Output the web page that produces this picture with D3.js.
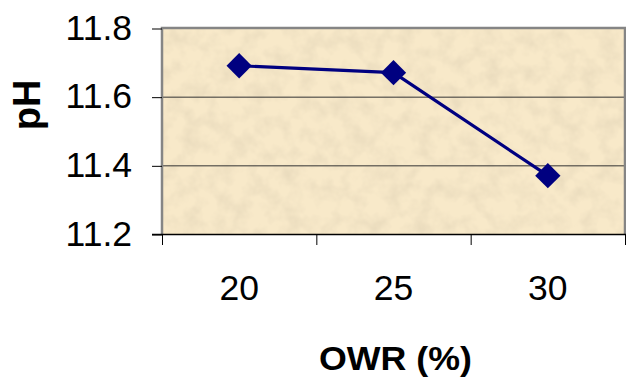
<!DOCTYPE html>
<html lang="en">
<head>
  <meta charset="UTF-8">
  <script type="text/javascript" src="https://cdn.jsdelivr.net/npm/d3@7/dist/d3.min.js"></script>
  <title>pH vs OWR</title>
  <style>
    body { margin: 0; background: white; }
    text { font-family: 'Liberation Sans', Arial, sans-serif; fill: black; }
    .tick_text { font-size: 35.5px; }
    .axis_text { font-size: 34px; font-weight: bold; }
  </style>
</head>
<body>
<div id="chart"></div>

<script>
  // chart values
  var owr = ["20", "25", "30"];
  var ph = [11.69, 11.67, 11.37];
  var yTicks = [11.2, 11.4, 11.6, 11.8];

  var width = 626, height = 386;
  var plotLeft = 162, plotRight = 625, plotTop = 28, plotBottom = 234;

  var svg = d3.select("#chart")
    .append("svg")
    .attr("width", width)
    .attr("height", height);

  // mottled paper texture for the plot area
  var defs = svg.append("defs");
  var filt = defs.append("filter")
    .attr("id", "paper")
    .attr("x", 0).attr("y", 0).attr("width", 1).attr("height", 1);
  filt.append("feTurbulence")
    .attr("type", "fractalNoise")
    .attr("baseFrequency", 0.06)
    .attr("numOctaves", 3)
    .attr("seed", 7);
  filt.append("feColorMatrix")
    .attr("type", "matrix")
    .attr("values", "0 0 0 0 0.74  0 0 0 0 0.64  0 0 0 0 0.46  1.1 0 0 0 -0.42");
  filt.append("feComposite").attr("in2", "SourceGraphic").attr("operator", "in");

  var xScale = d3.scaleBand()
    .domain(owr)
    .range([plotLeft, plotRight]);

  var yScale = d3.scaleLinear()
    .domain([11.2, 11.8])
    .range([plotBottom, plotTop]);

  // plot background
  svg.append("rect")
    .attr("x", plotLeft).attr("y", plotTop)
    .attr("width", plotRight - plotLeft).attr("height", plotBottom - plotTop)
    .style("fill", "#f8e9c9");
  svg.append("rect")
    .attr("x", plotLeft).attr("y", plotTop)
    .attr("width", plotRight - plotLeft).attr("height", plotBottom - plotTop)
    .style("fill", "#000")
    .attr("filter", "url(#paper)");

  // gridlines
  svg.append("g")
    .selectAll("line")
    .data([11.4, 11.6])
    .enter()
    .append("line")
    .attr("x1", plotLeft).attr("x2", plotRight)
    .attr("y1", function(d) { return yScale(d) + 0.5; })
    .attr("y2", function(d) { return yScale(d) + 0.5; })
    .style("stroke", "#333")
    .style("stroke-width", 1);

  // plot border (grey)
  svg.append("path")
    .attr("d", "M" + plotLeft + "," + plotBottom + "V" + plotTop + "H" + plotRight + "V" + plotBottom)
    .style("fill", "none")
    .style("stroke", "#858585")
    .style("stroke-width", 2.5);

  // y axis
  var yAxis = svg.append("g")
    .attr("transform", "translate(" + plotLeft + ",0)")
    .call(d3.axisLeft(yScale).tickValues(yTicks).tickFormat(d3.format(".1f")).tickSize(10).tickPadding(20));
  yAxis.attr("font-size", null).attr("font-family", null);
  yAxis.select(".domain").remove();
  yAxis.selectAll("line").style("stroke", "#000").attr("y1", 0.5).attr("y2", 0.5);
  yAxis.selectAll("text").attr("class", "tick_text").attr("dy", "0.31em");

  // x axis (ticks on band boundaries)
  var xAxis = svg.append("g")
    .attr("transform", "translate(0," + plotBottom + ")");
  xAxis.append("line")
    .attr("x1", plotLeft - 10).attr("x2", plotRight + 2)
    .attr("y1", 0.5).attr("y2", 0.5)
    .style("stroke", "#000").style("stroke-width", 1.5);
  xAxis.selectAll(".xtick")
    .data(owr.concat([null]))
    .enter()
    .append("line")
    .attr("class", "xtick")
    .attr("x1", function(d, i) { return plotLeft + i * xScale.bandwidth() + 0.5; })
    .attr("x2", function(d, i) { return plotLeft + i * xScale.bandwidth() + 0.5; })
    .attr("y1", 0).attr("y2", 11)
    .style("stroke", "#000");
  xAxis.selectAll(".xlab")
    .data(owr)
    .enter()
    .append("text")
    .attr("class", "tick_text")
    .attr("x", function(d) { return xScale(d) + xScale.bandwidth() / 2; })
    .attr("y", 66)
    .style("text-anchor", "middle")
    .text(function(d) { return d; });

  // line + markers
  var line = d3.line()
    .x(function(d, i) { return xScale(owr[i]) + xScale.bandwidth() / 2; })
    .y(function(d) { return yScale(d); });

  svg.append("path")
    .datum(ph)
    .attr("d", line)
    .style("fill", "none")
    .style("stroke", "#000080")
    .style("stroke-width", 3.2);

  svg.selectAll(".marker")
    .data(ph)
    .enter()
    .append("path")
    .attr("class", "marker")
    .attr("d", d3.symbol().type(d3.symbolSquare).size(320))
    .attr("transform", function(d, i) {
      return "translate(" + (xScale(owr[i]) + xScale.bandwidth() / 2) + "," + yScale(d) + ") rotate(45)";
    })
    .style("fill", "#000080");

  // axis titles
  svg.append("text")
    .attr("class", "axis_text")
    .attr("x", (plotLeft + plotRight) / 2 + 2)
    .attr("y", 370)
    .style("text-anchor", "middle")
    .attr("textLength", 153)
    .attr("lengthAdjust", "spacingAndGlyphs")
    .text("OWR (%)");

  svg.append("text")
    .attr("class", "axis_text")
    .attr("transform", "translate(40,105) rotate(-90)")
    .style("text-anchor", "middle")
    .style("font-size", "38px")
    .text("pH");
</script>
</body>
</html>
